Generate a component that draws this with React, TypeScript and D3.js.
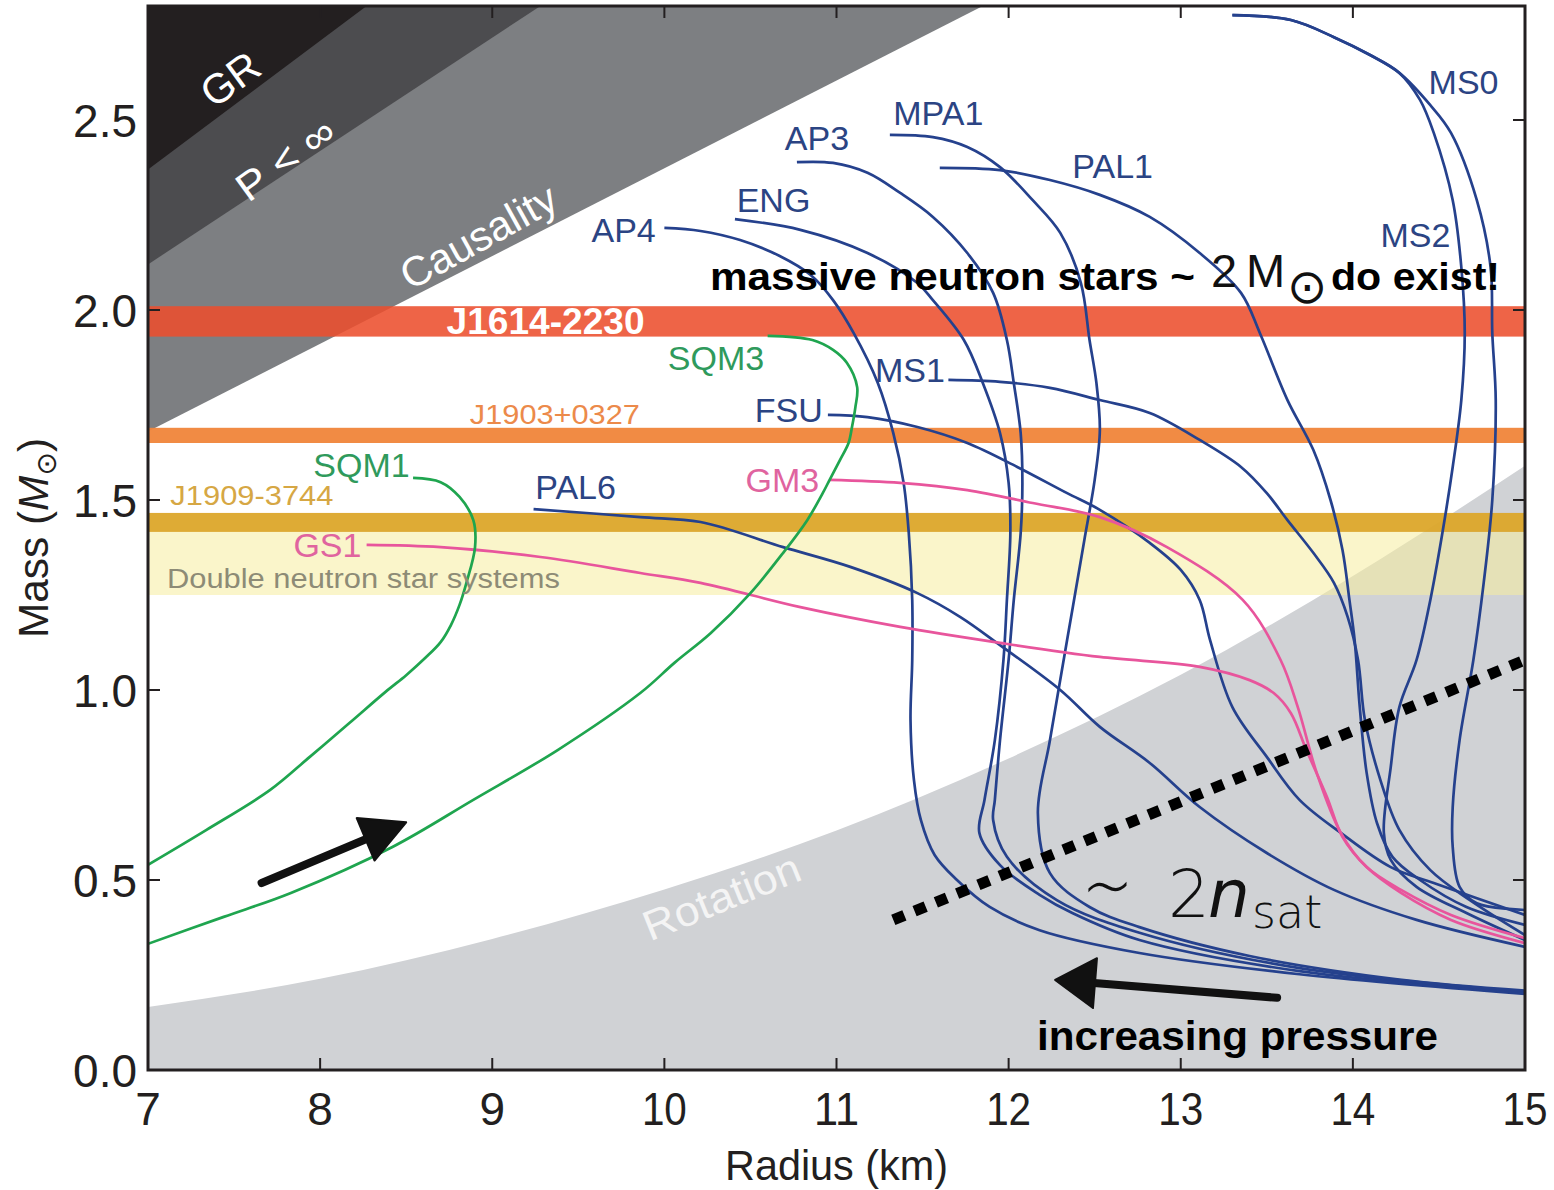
import React from "react";
import * as d3 from "d3";

type Pt = [number, number];

// Axes
const R_DOMAIN: Pt = [7, 15];
const M_DOMAIN: Pt = [0, 2.8];
const R_TICKS = [7, 8, 9, 10, 11, 12, 13, 14, 15];
const M_TICKS = [0, 0.5, 1.0, 1.5, 2.0, 2.5];

// Excluded regions: edges as (radius km, mass Msun)
const GR_EDGE: Pt[] = [[7, 2.37], [8.27, 2.8]];
const P_INF_EDGE: Pt[] = [[7, 2.12], [9.28, 2.8]];
const CAUSALITY_EDGE: Pt[] = [[7, 1.68], [11.85, 2.8]];
const ROTATION_EDGE: Pt[] = [
  [7, 0.166], [8, 0.24], [9, 0.345], [10, 0.475], [11, 0.63],
  [12, 0.82], [13, 1.04], [14, 1.3], [15, 1.59],
];

// Measured pulsar masses (lo, hi in Msun)
const J1614_BAND: Pt = [1.93, 2.01];
const J1903_BAND: Pt = [1.65, 1.69];
const J1909_BAND: Pt = [1.416, 1.466];
const DNS_BAND: Pt = [1.25, 1.416];

// Mass-radius relations (radius km, mass Msun)
const AP4: Pt[] = [[10.0, 2.216], [10.21, 2.208], [10.44, 2.184], [10.67, 2.142], [10.85, 2.092], [10.98, 2.026], [11.1, 1.939], [11.24, 1.808], [11.33, 1.676], [11.39, 1.545], [11.42, 1.413], [11.44, 1.237], [11.44, 1.079], [11.43, 0.921], [11.45, 0.763], [11.49, 0.658], [11.57, 0.566], [11.7, 0.5], [11.89, 0.429], [12.18, 0.368], [12.76, 0.308], [13.69, 0.252], [15.0, 0.2]];
const ENG: Pt[] = [[10.41, 2.239], [10.79, 2.211], [11.18, 2.15], [11.47, 2.071], [11.56, 2.026], [11.74, 1.921], [11.85, 1.808], [11.95, 1.676], [12.0, 1.545], [12.01, 1.413], [11.99, 1.237], [11.97, 1.079], [11.92, 0.868], [11.86, 0.711], [11.83, 0.624], [11.95, 0.539], [12.18, 0.461], [12.37, 0.413], [12.76, 0.342], [13.69, 0.26], [15.0, 0.203]];
const AP3: Pt[] = [[10.77, 2.389], [10.98, 2.387], [11.18, 2.361], [11.37, 2.308], [11.56, 2.245], [11.76, 2.15], [11.91, 2.045], [11.99, 1.921], [12.03, 1.808], [12.07, 1.676], [12.08, 1.545], [12.07, 1.413], [12.03, 1.237], [12.0, 1.079], [11.95, 0.868], [11.92, 0.711], [11.91, 0.658], [11.99, 0.561], [12.28, 0.447], [12.76, 0.361], [13.69, 0.268], [15.0, 0.206]];
const MPA1: Pt[] = [[11.31, 2.461], [11.56, 2.455], [11.76, 2.429], [11.95, 2.376], [12.14, 2.289], [12.3, 2.203], [12.42, 2.071], [12.47, 1.921], [12.51, 1.808], [12.53, 1.684], [12.5, 1.553], [12.44, 1.395], [12.39, 1.263], [12.34, 1.132], [12.24, 0.868], [12.17, 0.676], [12.24, 0.518], [12.47, 0.429], [12.76, 0.376], [13.4, 0.3], [14.27, 0.238], [15.0, 0.209]];
const PAL1: Pt[] = [[11.6, 2.374], [11.95, 2.368], [12.24, 2.342], [12.53, 2.303], [12.82, 2.245], [13.11, 2.15], [13.35, 2.045], [13.46, 1.939], [13.62, 1.763], [13.77, 1.632], [13.87, 1.5], [13.94, 1.368], [13.98, 1.237], [14.01, 1.132], [14.04, 0.955], [14.08, 0.782], [14.14, 0.65], [14.23, 0.561], [14.39, 0.5], [14.66, 0.429], [15.0, 0.382]];
const MS1: Pt[] = [[11.65, 1.816], [11.95, 1.811], [12.24, 1.795], [12.53, 1.763], [12.82, 1.729], [13.11, 1.658], [13.35, 1.587], [13.5, 1.518], [13.62, 1.447], [13.77, 1.361], [13.89, 1.282], [13.97, 1.192], [14.03, 1.079], [14.07, 0.921], [14.16, 0.763], [14.27, 0.632], [14.45, 0.526], [14.68, 0.447], [15.0, 0.355]];
const MS0: Pt[] = [[13.3, 2.776], [13.64, 2.763], [13.89, 2.718], [14.1, 2.671], [14.27, 2.624], [14.45, 2.539], [14.57, 2.466], [14.72, 2.289], [14.8, 2.113], [14.81, 1.939], [14.83, 1.763], [14.81, 1.5], [14.76, 1.282], [14.7, 1.079], [14.62, 0.868], [14.58, 0.692], [14.58, 0.587], [14.62, 0.482], [14.72, 0.439], [15.0, 0.421]];
const MS2: Pt[] = [[13.3, 2.776], [13.64, 2.763], [13.89, 2.718], [14.1, 2.671], [14.27, 2.624], [14.39, 2.553], [14.47, 2.466], [14.58, 2.289], [14.63, 2.113], [14.65, 1.939], [14.63, 1.763], [14.58, 1.587], [14.52, 1.413], [14.45, 1.237], [14.37, 1.079], [14.27, 0.955], [14.22, 0.797], [14.18, 0.624], [14.22, 0.553], [14.37, 0.482], [14.66, 0.413], [15.0, 0.342]];
const FSU: Pt[] = [[10.95, 1.724], [11.18, 1.718], [11.47, 1.692], [11.76, 1.65], [12.05, 1.587], [12.34, 1.518], [12.53, 1.474], [12.82, 1.387], [13.0, 1.316], [13.11, 1.237], [13.17, 1.132], [13.3, 0.955], [13.5, 0.824], [13.69, 0.711], [13.93, 0.624], [14.22, 0.534], [14.47, 0.492], [15.0, 0.408]];
const PAL6: Pt[] = [[9.24, 1.476], [9.86, 1.455], [10.21, 1.442], [10.69, 1.376], [11.08, 1.324], [11.47, 1.255], [11.72, 1.192], [11.95, 1.118], [12.3, 1.0], [12.53, 0.903], [12.82, 0.808], [13.11, 0.692], [13.5, 0.571], [13.89, 0.474], [14.37, 0.395], [15.0, 0.324]];
const GS1: Pt[] = [[8.27, 1.382], [8.7, 1.376], [9.28, 1.35], [9.86, 1.308], [10.21, 1.282], [10.79, 1.218], [11.37, 1.166], [11.95, 1.124], [12.53, 1.087], [13.11, 1.061], [13.4, 1.026], [13.54, 0.992], [13.64, 0.939], [13.73, 0.842], [13.85, 0.718], [13.94, 0.613], [14.08, 0.534], [14.28, 0.466], [14.57, 0.395], [15.0, 0.334]];
const GM3: Pt[] = [[10.96, 1.553], [11.37, 1.545], [11.76, 1.526], [12.14, 1.492], [12.53, 1.455], [12.92, 1.376], [13.36, 1.237], [13.58, 1.079], [13.68, 0.955], [13.79, 0.782], [13.93, 0.624], [14.08, 0.534], [14.28, 0.474], [14.57, 0.408], [15.0, 0.347]];
const SQM1: Pt[] = [[8.54, 1.558], [8.7, 1.547], [8.81, 1.508], [8.89, 1.447], [8.9, 1.376], [8.85, 1.282], [8.81, 1.224], [8.76, 1.171], [8.7, 1.126], [8.61, 1.084], [8.5, 1.039], [8.38, 0.995], [8.17, 0.913], [7.94, 0.824], [7.71, 0.737], [7.34, 0.632], [7.0, 0.54]];
const SQM3: Pt[] = [[10.6, 1.932], [10.86, 1.921], [10.98, 1.895], [11.06, 1.861], [11.12, 1.797], [11.11, 1.745], [11.09, 1.692], [11.07, 1.65], [11.02, 1.605], [10.96, 1.553], [10.92, 1.518], [10.83, 1.447], [10.69, 1.361], [10.5, 1.255], [10.27, 1.15], [10.06, 1.072], [9.86, 0.992], [9.38, 0.842], [8.89, 0.711], [8.42, 0.587], [7.83, 0.466], [7.44, 0.403], [7.0, 0.332]];

// Annotations
const NSAT_LINE: Pt[] = [[11.33, 0.395], [15.0, 1.079]];
const ARROW_UP: Pt[] = [[7.66, 0.492], [8.5, 0.652]];
const ARROW_LEFT: Pt[] = [[13.56, 0.19], [12.27, 0.237]];

const BLUE = "#25418d";
const GREEN = "#1fa54f";
const PINK = "#e8559c";
const BLUE_TXT = "#2b4483";
const GREEN_TXT = "#2f9a5c";
const PINK_TXT = "#e0649f";
const SANS = "Liberation Sans, Arial, Helvetica, sans-serif";

export default function App() {
  const x = d3.scaleLinear().domain(R_DOMAIN).range([148, 1525]);
  const y = d3.scaleLinear().domain(M_DOMAIN).range([1070, 6]);
  const [x0, x1] = x.range();
  const [yb, yt] = y.range();

  const curve = d3
    .line<Pt>()
    .x((d) => x(d[0]))
    .y((d) => y(d[1]))
    .curve(d3.curveCatmullRom.alpha(0.5));
  const straight = d3.line<Pt>().x((d) => x(d[0])).y((d) => y(d[1]));
  const wedge = (edge: Pt[]) =>
    straight([...edge, [R_DOMAIN[0], M_DOMAIN[1]]]) + "Z";
  const rotation = d3
    .area<Pt>()
    .x((d) => x(d[0]))
    .y0(y(0))
    .y1((d) => y(d[1]))
    .curve(d3.curveMonotoneX);

  const band = (b: Pt, fill: string, op: number) => (
    <rect x={x0} width={x1 - x0} y={y(b[1])} height={y(b[0]) - y(b[1])} fill={fill} opacity={op} />
  );

  const curves: { pts: Pt[]; color: string }[] = [
    { pts: AP4, color: BLUE }, { pts: ENG, color: BLUE }, { pts: AP3, color: BLUE },
    { pts: MPA1, color: BLUE }, { pts: PAL1, color: BLUE }, { pts: MS1, color: BLUE },
    { pts: MS0, color: BLUE }, { pts: MS2, color: BLUE }, { pts: FSU, color: BLUE },
    { pts: PAL6, color: BLUE }, { pts: GS1, color: PINK }, { pts: GM3, color: PINK },
    { pts: SQM1, color: GREEN }, { pts: SQM3, color: GREEN },
  ];

  const labels: { t: string; r: number; m: number; a: "start" | "end"; c: string }[] = [
    { t: "AP4", r: 9.95, m: 2.179, a: "end", c: BLUE_TXT },
    { t: "ENG", r: 10.42, m: 2.258, a: "start", c: BLUE_TXT },
    { t: "AP3", r: 10.7, m: 2.421, a: "start", c: BLUE_TXT },
    { t: "MPA1", r: 11.33, m: 2.487, a: "start", c: BLUE_TXT },
    { t: "PAL1", r: 12.37, m: 2.347, a: "start", c: BLUE_TXT },
    { t: "MS0", r: 14.44, m: 2.568, a: "start", c: BLUE_TXT },
    { t: "MS2", r: 14.16, m: 2.166, a: "start", c: BLUE_TXT },
    { t: "MS1", r: 11.63, m: 1.811, a: "end", c: BLUE_TXT },
    { t: "FSU", r: 10.92, m: 1.705, a: "end", c: BLUE_TXT },
    { t: "PAL6", r: 9.25, m: 1.503, a: "start", c: BLUE_TXT },
    { t: "SQM3", r: 10.02, m: 1.842, a: "start", c: GREEN_TXT },
    { t: "SQM1", r: 8.52, m: 1.561, a: "end", c: GREEN_TXT },
    { t: "GM3", r: 10.9, m: 1.521, a: "end", c: PINK_TXT },
    { t: "GS1", r: 8.24, m: 1.35, a: "end", c: PINK_TXT },
  ];

  const arrow = (seg: Pt[], len: number, half: number) => {
    const [ax, ay] = [x(seg[0][0]), y(seg[0][1])];
    const [bx, by] = [x(seg[1][0]), y(seg[1][1])];
    const d = Math.hypot(bx - ax, by - ay);
    const ux = (bx - ax) / d, uy = (by - ay) / d;
    const cx = bx - ux * len, cy = by - uy * len;
    const tri = `M${bx},${by}L${cx - uy * half},${cy + ux * half}L${cx + uy * half},${cy - ux * half}Z`;
    return (
      <g>
        <line x1={ax} y1={ay} x2={cx + ux * 4} y2={cy + uy * 4} stroke="#111" strokeWidth={8} strokeLinecap="round" />
        <path d={tri} fill="#111" stroke="#111" strokeWidth={2} strokeLinejoin="round" />
      </g>
    );
  };

  const rotText = (t: string, r: number, m: number, ang: number, size: number, len: number, fill: string) => (
    <text
      transform={`translate(${x(r)},${y(m)}) rotate(${ang})`}
      textAnchor="middle"
      dominantBaseline="middle"
      fontFamily={SANS}
      fontSize={size}
      fill={fill}
      textLength={len}
      lengthAdjust="spacingAndGlyphs"
    >
      {t}
    </text>
  );

  return (
    <div style={{ position: "absolute", left: 0, top: 0 }}>
      <svg width={1554} height={1190} viewBox="0 0 1554 1190" style={{ display: "block", background: "#fff" }}>
        <defs>
          <clipPath id="plot">
            <rect x={x0} y={yt} width={x1 - x0} height={yb - yt} />
          </clipPath>
        </defs>
        <g clipPath="url(#plot)">
          <rect x={x0} y={yt} width={x1 - x0} height={yb - yt} fill="#fff" />
          <path d={rotation(ROTATION_EDGE) || ""} fill="#d0d2d5" />
          <path d={wedge(CAUSALITY_EDGE)} fill="#7d7f82" />
          <path d={wedge(P_INF_EDGE)} fill="#4c4c4f" />
          <path d={wedge(GR_EDGE)} fill="#231f20" />
          {band(DNS_BAND, "#f6ec9e", 0.55)}
          {band(J1909_BAND, "#dca72a", 0.95)}
          {band(J1903_BAND, "#f0853a", 0.95)}
          {band(J1614_BAND, "#ec4e2e", 0.88)}

          {rotText("GR", 7.49, 2.6, -36, 42, 62, "#fff")}
          {rotText("P < ∞", 7.81, 2.39, -36, 40, 112, "#fff")}
          {rotText("Causality", 8.93, 2.185, -29, 42, 172, "#fff")}
          {rotText("Rotation", 10.34, 0.447, -22, 42, 166, "#f4f4f4")}

          {curves.map((c, i) => (
            <path key={i} d={curve(c.pts) || ""} fill="none" stroke={c.color} strokeWidth={2.7} />
          ))}

          <path
            d={straight(NSAT_LINE) || ""}
            stroke="#000"
            strokeWidth={11}
            strokeDasharray="12 11"
            fill="none"
          />
        </g>

        {/* band labels */}
        <text x={x(9.31)} y={y(1.937)} textAnchor="middle" fontFamily={SANS} fontWeight="bold" fontSize={37} fill="#fff" textLength={198} lengthAdjust="spacingAndGlyphs">J1614-2230</text>
        <text x={x(8.87)} y={y(1.7)} fontFamily={SANS} fontSize={28} fill="#ec8a4a" textLength={170} lengthAdjust="spacingAndGlyphs">J1903+0327</text>
        <text x={x(7.13)} y={y(1.487)} fontFamily={SANS} fontSize={28} fill="#d6a744" textLength={163} lengthAdjust="spacingAndGlyphs">J1909-3744</text>
        <text x={x(7.11)} y={y(1.268)} fontFamily={SANS} fontSize={27} fill="#8d8b76" textLength={393} lengthAdjust="spacingAndGlyphs">Double neutron star systems</text>

        {/* curve labels */}
        {labels.map((l) => (
          <text key={l.t} x={x(l.r)} y={y(l.m)} textAnchor={l.a} fontFamily={SANS} fontSize={34} fill={l.c}>
            {l.t}
          </text>
        ))}

        {/* annotations */}
        <text x={710} y={290} fontFamily={SANS} fontWeight="bold" fontSize={38} fill="#000" textLength={485} lengthAdjust="spacingAndGlyphs">massive neutron stars ~</text>
        <text y={287} fontFamily={SANS} fontWeight={300} fontSize={47} fill="#111">
          <tspan x={1211}>2</tspan>
          <tspan x={1246}>M</tspan>
        </text>
        <text x={1287} y={303} fontFamily="DejaVu Sans, sans-serif" fontSize={48} fill="#111">⊙</text>
        <text x={1331} y={290} fontFamily={SANS} fontWeight="bold" fontSize={38} fill="#000" textLength={169} lengthAdjust="spacingAndGlyphs">do exist!</text>

        <text x={1037} y={1050} fontFamily={SANS} fontWeight="bold" fontSize={40} fill="#000" textLength={401} lengthAdjust="spacingAndGlyphs">increasing pressure</text>

        <text y={917} fontFamily="DejaVu Sans, sans-serif" fontWeight={200} fontSize={66} fill="#111">
          <tspan x={1082} fontSize={80} dy={-2}>∼</tspan>
          <tspan x={1168} dy={2}>2</tspan>
          <tspan x={1208} fontStyle="italic" fontWeight={400}>n</tspan>
          <tspan x={1252} dy={11} fontSize={46}>sat</tspan>
        </text>

        {arrow(ARROW_UP, 44, 23)}
        {arrow(ARROW_LEFT, 40, 25)}

        {/* frame and ticks */}
        <rect x={x0} y={yt} width={x1 - x0} height={yb - yt} fill="none" stroke="#231f20" strokeWidth={3} />
        {R_TICKS.map((t) => (
          <g key={"r" + t}>
            <line x1={x(t)} x2={x(t)} y1={yb} y2={yb - 12} stroke="#231f20" strokeWidth={2} />
            <line x1={x(t)} x2={x(t)} y1={yt} y2={yt + 12} stroke="#231f20" strokeWidth={2} />
            <text
              x={x(t)}
              y={1125}
              textAnchor="middle"
              fontFamily={SANS}
              fontSize={46}
              fill="#231f20"
              {...(t >= 10 ? { textLength: 45, lengthAdjust: "spacingAndGlyphs" } : {})}
            >
              {t}
            </text>
          </g>
        ))}
        {M_TICKS.map((t) => (
          <g key={"m" + t}>
            <line x1={x0} x2={x0 + 12} y1={y(t)} y2={y(t)} stroke="#231f20" strokeWidth={2} />
            <line x1={x1} x2={x1 - 12} y1={y(t)} y2={y(t)} stroke="#231f20" strokeWidth={2} />
            <text x={137} y={y(t) + 17} textAnchor="end" fontFamily={SANS} fontSize={46} fill="#231f20">
              {d3.format(".1f")(t)}
            </text>
          </g>
        ))}

        <text x={(x0 + x1) / 2} y={1180} textAnchor="middle" fontFamily={SANS} fontSize={42} fill="#231f20" textLength={223} lengthAdjust="spacingAndGlyphs">Radius (km)</text>
        <text transform={`translate(48,${y(1.4)}) rotate(-90)`} textAnchor="middle" fontFamily={SANS} fontSize={42} fill="#231f20" textLength={200} lengthAdjust="spacingAndGlyphs">
          Mass (<tspan fontStyle="italic">M</tspan><tspan fontFamily="DejaVu Sans, sans-serif" fontSize={28} dy={8}>⊙</tspan><tspan dy={-8}>)</tspan>
        </text>
      </svg>
    </div>
  );
}
